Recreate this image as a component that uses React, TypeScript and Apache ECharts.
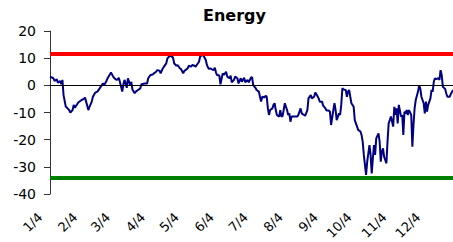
import React, { useEffect, useRef } from "react";
import * as echarts from "echarts";

const titleText = "Energy";

// day offsets from 1/4 and index values
const days = [
  0, 3, 4, 6, 7, 9, 10, 11, 12, 14, 15, 17, 18, 20, 21, 22, 24, 25, 28, 30, 31, 32, 34, 35, 37, 38, 40, 42, 44, 45, 47, 48, 50, 51, 53, 54, 56, 57, 59,
  60, 61, 63, 64, 65, 66, 68, 69, 71, 72, 73, 75, 76, 78, 80, 81, 84, 86, 87, 89, 91, 92, 94, 95, 97, 98, 100, 101, 103, 104, 106, 107, 109, 110, 112, 113, 115, 116, 118, 119,
  120, 122, 123, 125, 126, 128, 129, 130, 132, 133, 135, 136, 138, 139, 140, 141, 142, 143, 145, 146, 147, 148, 150, 151, 153, 154, 156, 157, 159, 160, 161, 163, 164, 166, 167, 169, 170, 172, 173, 175, 176, 178, 179, 180,
  182, 183, 185, 186, 187, 188, 190, 191, 192, 193, 194, 195, 197, 198, 199, 200, 201, 203, 204, 205, 206, 207, 208, 210, 211, 212, 213, 214, 216, 217, 219, 220, 222, 223, 225, 226, 228, 229, 231, 232, 234, 235, 236, 238, 239,
  241, 242, 244, 245, 247, 248, 249, 251, 252, 253, 254, 256, 257, 258, 259, 260, 262, 263, 264, 265, 266, 267, 269, 270, 271, 272, 273, 275, 276, 277, 278, 279, 280, 281, 283, 284, 285, 286, 287, 288, 289, 291, 292, 293, 294, 295, 296, 298, 299, 300, 301,
  302, 304, 305, 306, 307, 308, 309, 311, 312, 313, 314, 315, 316, 317, 318, 320, 321, 322, 323, 324, 326, 327, 328, 329, 331, 332, 333, 334, 335, 337, 338, 339, 340, 341, 342, 344, 345, 346, 347, 348, 350, 351, 352, 354, 355, 357,
];

const values = [
  3.2, 2.6, 1.6, 2.2, 1.0, 1.6, 0.4, 2.0, -3.6, -7.9, -8.2, -9.1, -10.0, -9.1, -7.2, -8.2, -7.0, -6.3, -5.4, -5.0, -4.5, -6.0, -9.1, -7.9, -6.0, -4.2, -2.7, -2.3, -1.1, -0.5, 0.7, 0.1, 1.6, 2.6, 4.0, 4.7, 3.2, 2.6, 2.0,
  2.2, 2.8, -0.5, -2.3, 0.4, 2.0, -0.9, 2.6, 0.1, 1.3, -1.5, -2.9, -2.3, -1.7, -1.1, 0.4, 0.7, 0.7, 2.6, 3.8, 4.0, 4.4, 5.0, 5.6, 5.4, 4.4, 6.3, 6.9, 8.1, 9.9, 10.8, 10.9, 10.2, 8.1, 7.2, 7.5, 6.3, 6.0, 4.4, 5.3,
  5.6, 6.3, 7.2, 6.9, 7.5, 7.2, 6.9, 7.5, 8.7, 10.6, 11.2, 10.9, 9.3, 7.5, 6.5, 6.0, 6.3, 6.0, 5.6, 6.5, 4.8, 3.8, 3.6, 0.4, 4.4, 3.8, 5.0, 3.2, 2.6, 3.6, 1.1, 2.0, 3.2, 2.6, 0.7, 2.6, 1.3, 2.8, 1.1, 2.0, 1.1, 2.8, 3.0, 0.1,
  -0.9, -1.7, -2.3, -4.2, -6.0, -4.2, -4.5, -3.8, -4.2, -8.5, -10.9, -9.1, -8.5, -7.2, -6.6, -9.1, -10.9, -11.5, -9.1, -11.5, -11.3, -9.1, -6.6, -9.1, -10.9, -10.3, -13.4, -11.5, -11.5, -11.5, -11.5, -10.9, -8.5, -10.3, -10.9, -11.2, -9.1, -4.8, -3.6, -4.8, -4.2, -2.6, -3.3, -4.8, -6.0,
  -6.0, -7.5, -8.5, -9.3, -9.3, -9.7, -14.6, -9.1, -6.6, -9.1, -12.8, -10.3, -10.9, -7.2, -1.1, -1.5, -1.7, -4.2, -2.3, -1.7, -4.2, -6.6, -7.9, -12.8, -14.0, -15.2, -16.4, -17.0, -18.3, -20.7, -25.6, -29.3, -33.0, -28.1, -22.0, -25.6, -32.4, -26.9, -22.0, -25.6, -19.5, -17.7, -20.7, -28.1, -24.4, -23.2, -26.3, -28.7, -20.7, -14.0, -12.8,
  -11.5, -15.2, -7.9, -10.9, -8.5, -14.0, -7.2, -11.5, -10.9, -18.3, -9.7, -10.3, -9.1, -10.9, -9.1, -10.9, -22.6, -14.6, -8.5, -5.4, -2.3, -0.1, -1.1, -4.2, -6.6, -10.3, -6.0, -9.7, -7.2, -4.8, -1.7, -2.3, 1.3, 2.6, 2.3, 2.6, 2.0, 5.6, 3.8, -0.5, -1.3, -2.9, -4.2, -4.2, -3.3, -1.7,
];

const monthTickDays = [0, 31, 60, 91, 121, 152, 182, 213, 244, 274, 305, 335];
const monthLabels = ["1/4", "2/4", "3/4", "4/4", "5/4", "6/4", "7/4", "8/4", "9/4", "10/4", "11/4", "12/4"];

const upperBand = 11.6;
const lowerBand = -34.1;
const zeroLevel = 0;

const yMin = -40;
const yMax = 20;
const yStep = 10;
const xMax = 357;

export default function App() {
  const ref = useRef<HTMLDivElement>(null);

  useEffect(() => {
    if (!ref.current) return;
    const chart = echarts.init(ref.current, undefined, { renderer: "svg" });
    const data = days.map((d, i) => [d, values[i]]);
    chart.setOption({
      animation: false,
      backgroundColor: "#ffffff",
      title: {
        text: titleText,
        left: 203,
        top: 7,
        padding: 0,
        textStyle: {
          fontFamily: "DejaVu Sans",
          fontWeight: "bold",
          fontSize: 16,
          color: "#000000",
        },
      },
      grid: { left: 50, right: 0, top: 31, bottom: 48, containLabel: false, outerBoundsMode: "none" },
      xAxis: {
        type: "value",
        min: 0,
        max: xMax,
        axisLine: { show: false },
        axisTick: { show: false, customValues: monthTickDays },
        splitLine: { show: false },
        axisLabel: {
          customValues: monthTickDays,
          formatter: (v: number) => {
            const i = monthTickDays.indexOf(Math.round(v));
            return i >= 0 ? monthLabels[i] : "";
          },
          rotate: 45,
          margin: 11,
          padding: [0, 14, 0, 0],
          fontSize: 13,
          fontFamily: "DejaVu Sans",
          color: "#000000",
        },
      },
      yAxis: {
        type: "value",
        min: yMin,
        max: yMax,
        interval: yStep,
        axisLine: { show: true, lineStyle: { color: "#333333", width: 1 } },
        axisTick: { show: true, length: 6, lineStyle: { color: "#333333" } },
        splitLine: { show: false },
        axisLabel: {
          margin: 14,
          fontSize: 14,
          fontFamily: "DejaVu Sans",
          color: "#000000",
        },
      },
      series: [
        {
          type: "line",
          data,
          showSymbol: false,
          symbol: "none",
          lineStyle: { color: "#000080", width: 2 },
          z: 3,
          markLine: {
            silent: true,
            symbol: ["none", "none"],
            label: { show: false },
            data: [
              { yAxis: zeroLevel, lineStyle: { color: "#000000", width: 1, type: "solid" } },
              { yAxis: upperBand, lineStyle: { color: "#ff0000", width: 4, type: "solid" } },
              { yAxis: lowerBand, lineStyle: { color: "#008000", width: 4, type: "solid" } },
            ],
          },
        },
      ],
    });
    return () => chart.dispose();
  }, []);

  return (
    <div
      ref={ref}
      style={{ position: "fixed", left: 0, top: 0, width: 453, height: 242 }}
    />
  );
}
